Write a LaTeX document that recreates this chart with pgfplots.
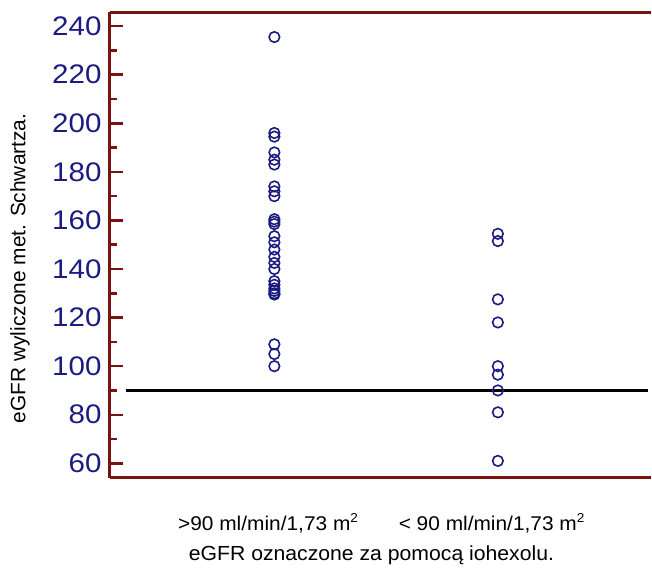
\documentclass[border=0pt]{standalone}
\usepackage{pgfplots}
\pgfplotsset{compat=1.18}
\usepackage{fontspec}
\setmainfont{Liberation Sans}
\definecolor{frame}{RGB}{122,18,18}
\definecolor{navy}{RGB}{28,28,128}
\newcommand{\sq}{\raisebox{0.42em}{\fontsize{13}{13}\selectfont 2}}
\begin{document}
\begin{tikzpicture}
\begin{axis}[
  scale only axis,
  width=542bp, height=466.7bp,
  xmin=0.2634, xmax=2.683,
  ymin=54, ymax=245.7,
  axis x line*=box, axis y line*=left,
  axis line style={draw=frame, line width=3bp},
  xtick={1,2},
  xticklabels={{>90 ml/min/1,73 m\sq},{< 90 ml/min/1,73 m\sq}},
  x tick style={draw=none},
  ytick={60,80,...,240},
  minor y tick num=1,
  tick align=inside,
  major tick length=13bp, minor tick length=7bp,
  y tick style={draw=frame, line width=2.5bp},
  /pgf/number format/assume math mode=true,
  yticklabel style={font=\fontsize{27}{32}\selectfont, text=navy, xscale=1.1, xshift=-4bp},
  xticklabel style={font=\fontsize{20}{24}\selectfont, xscale=1.05, anchor=base, yshift=-53bp, xshift=-6bp},
  xlabel={eGFR oznaczone za pomocą iohexolu.},
  ylabel={eGFR wyliczone met. Schwartza.},
  xlabel style={font=\fontsize{20.5}{24}\selectfont, xscale=1.04, at={(axis description cs:0.484,0)}, anchor=base, yshift=-83bp},
  ylabel style={font=\fontsize{21}{25}\selectfont, at={(axis description cs:-0.1660,0.45)}, anchor=center},
  clip=false,
]
% eGFR above 90 by iohexol
\addplot[only marks, mark=o, mark size=5.3bp, color=navy, mark options={line width=1.6bp}]
  coordinates {
  (1,235.5) (1,196) (1,194.5) (1,188) (1,185) (1,183)
  (1,174) (1,172) (1,170) (1,160.5) (1,159.5) (1,158.5)
  (1,153.5) (1,151) (1,148) (1,145) (1,142.5) (1,140)
  (1,135) (1,133.5) (1,132) (1,131) (1,130) (1,129.5)
  (1,109) (1,105) (1,100)
  };
% eGFR below 90 by iohexol
\addplot[only marks, mark=o, mark size=5.3bp, color=navy, mark options={line width=1.6bp}]
  coordinates {
  (2,154.5) (2,151.5) (2,127.5) (2,118) (2,100) (2,96.5)
  (2,90) (2,81) (2,61)
  };
% threshold 90 ml/min/1,73 m2
\addplot[black, line width=3bp] coordinates {(0.335,90) (2.67,90)};
\end{axis}
\path ([xshift=-110bp,yshift=-91bp]current axis.south west) rectangle ([yshift=12.3bp]current axis.north east);
\end{tikzpicture}
\end{document}
